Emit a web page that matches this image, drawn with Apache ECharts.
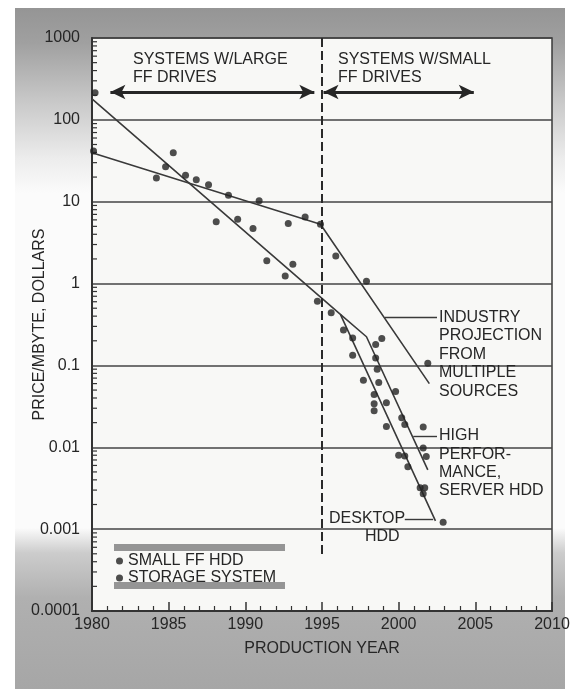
<!DOCTYPE html>
<html>
<head>
<meta charset="utf-8">
<script src="https://cdn.jsdelivr.net/npm/echarts@6/dist/echarts.min.js"></script>
<style>
html,body{margin:0;padding:0;background:#ffffff;}
#wrap{position:relative;width:580px;height:689px;overflow:hidden;}
#card{position:absolute;left:15px;top:8px;width:550px;height:681px;
background:linear-gradient(to bottom,#959595 0px,#a0a0a0 35px,#c6c6c6 90px,#ececec 150px,#fbfbfb 185px,#fbfbfb 520px,#cccccc 545px,#b0b0b0 590px,#a6a6a6 681px);}
#chart{position:absolute;left:0;top:0;width:580px;height:689px;}
</style>
</head>
<body>
<div id="wrap"><div id="card"></div><div id="chart"></div></div>
<script>
// ---- data (year, price per MByte in dollars) ----
const smallFFHDD = [
  [1980.2,215],[1984.2,19.5],[1984.8,26.8],[1988.1,5.7],[1989.5,6.1],[1990.5,4.7],
  [1992.8,5.4],[1991.4,1.9],[1993.1,1.72],[1992.6,1.24],[1994.7,0.61],[1995.6,0.44],
  [1996.4,0.27],[1997.0,0.216],[1997.0,0.133],[1998.9,0.214],[1998.5,0.18],[1998.5,0.123],
  [1998.6,0.09],[1997.7,0.066],[1998.7,0.062],[1998.4,0.044],[1999.8,0.048],[1998.4,0.034],
  [1998.4,0.028],[1999.2,0.035],[1999.2,0.018],[2000.2,0.023],[2000.4,0.019],[2001.6,0.0177],
  [2001.6,0.0098],[2001.8,0.0077],[2000.0,0.008],[2000.4,0.0078],[2000.6,0.0058],
  [2001.4,0.0032],[2001.7,0.0032],[2001.6,0.0027],[2002.9,0.00121]
];
const storageSystem = [
  [1980.1,41.7],[1985.3,39.7],[1986.1,21],[1986.8,18.6],[1987.6,16.1],[1988.9,12],
  [1990.9,10.3],[1993.9,6.5],[1994.9,5.3],[1995.9,2.17],[1997.9,1.07],[2001.9,0.106]
];
const hddTrendDesktop = [[1980,180],[1996.2,0.42],[2002.4,0.00126]];
const hddTrendServer = [[1996.2,0.42],[1997.9,0.224],[2001.9,0.0053]];
const storageTrendProjection = [[1980,39.7],[1994.9,5.3],[2002.0,0.06]];

const eraDivider = [[1995,1000],[1995,0.00045]];
const largeFFArrow = [[1981.2,219],[1994.5,219]];
const smallFFArrow = [[1995.1,219],[2004.9,219]];
const leaderIndustry = [[1999.1,0.39],[2002.5,0.39]];
const leaderServer = [[2000.95,0.0137],[2002.5,0.0137]];
const leaderDesktop = [[2000.4,0.00133],[2002.25,0.00133]];

const xTickLabels = ['1980','1985','1990','1995','2000','2005','2010'];
const yTickLabels = ['0.0001','0.001','0.01','0.1','1','10','100','1000'];
const yMinorTickValues = [];
for (let k = -4; k <= 2; k++) for (let m = 2; m <= 9; m++) yMinorTickValues.push([1980, m * Math.pow(10, k)]);

const legendNames = ['SMALL FF HDD','STORAGE SYSTEM'];

// ---- styles ----
const FONT = 'Liberation Sans, Arial, sans-serif';
const TXT = '#262626';
const LINE = '#3a3a3a';
const DOT = '#222222';

function seg(pair){ return [{coord: pair[0]}, {coord: pair[1]}]; }

const chart = echarts.init(document.getElementById('chart'), null, {renderer:'canvas'});

const textBlocks = [
  {x:133, y:61, t:'SYSTEMS W/LARGE'}, {x:133, y:79, t:'FF DRIVES'},
  {x:338, y:61, t:'SYSTEMS W/SMALL'}, {x:338, y:79, t:'FF DRIVES'},
  {x:439, y:318.5, t:'INDUSTRY'}, {x:439, y:337, t:'PROJECTION'}, {x:439, y:355.5, t:'FROM'},
  {x:439, y:374, t:'MULTIPLE'}, {x:439, y:392.5, t:'SOURCES'},
  {x:439, y:436.5, t:'HIGH'}, {x:439, y:455.5, t:'PERFOR-'}, {x:439, y:474, t:'MANCE,'},
  {x:439, y:492, t:'SERVER HDD'},
  {x:329, y:519.3, t:'DESKTOP'}, {x:365, y:537.5, t:'HDD'}
];

const graphics = textBlocks.map(b => ({
  type:'text', left:b.x, top:b.y - 9, z:50,
  style:{text:b.t, fill:TXT, font:'16px ' + FONT}
}));
graphics.push(
  {type:'rect', shape:{x:114,y:544,width:171,height:7}, style:{fill:'#959595'}, z:40},
  {type:'rect', shape:{x:114,y:582,width:171,height:7}, style:{fill:'#959595'}, z:40}
);

const option = {
  animation:false,
  textStyle:{fontFamily:FONT},
  grid:{left:92, top:38, right:28, bottom:78, show:true, backgroundColor:'#f8f8f6',
        borderColor:LINE, borderWidth:1.5},
  legend:{
    data:legendNames, orient:'vertical', left:116, top:553, padding:0, itemGap:1,
    itemWidth:7, itemHeight:7, icon:'circle',
    textStyle:{fontSize:16, color:TXT, fontFamily:FONT, padding:[0,0,0,0]},
    selectedMode:false
  },
  xAxis:{
    type:'value', min:1980, max:2010, interval:5,
    name:'PRODUCTION YEAR', nameLocation:'middle', nameGap:30, nameMoveOverlap:false,
    nameTextStyle:{fontSize:16, color:TXT, fontFamily:FONT},
    axisLine:{lineStyle:{color:'#333', width:2}},
    axisTick:{inside:true, length:9, lineStyle:{color:'#333', width:1.5}},
    minorTick:{show:true, splitNumber:5, length:5, lineStyle:{color:'#333', width:1.2}},
    axisLabel:{fontSize:16, color:TXT, margin:6, formatter:v => xTickLabels[Math.round((v-1980)/5)]},
    splitLine:{show:false}
  },
  yAxis:{
    type:'log', logBase:10, min:0.0001, max:1000, interval:1, splitNumber:7,
    name:'PRICE/MBYTE, DOLLARS', nameLocation:'middle', nameGap:44, nameRotate:90,
    nameMoveOverlap:false,
    nameTextStyle:{fontSize:16, color:TXT, fontFamily:FONT},
    axisLine:{show:true, lineStyle:{color:'#333', width:2}},
    axisTick:{show:false},
    axisLabel:{fontSize:16, color:TXT, margin:12,
      formatter:v => yTickLabels[Math.round(Math.log10(v)) + 4]},
    splitLine:{show:true, lineStyle:{color:'#454545', width:1.5}}
  },
  graphic:graphics,
  series:[
    {
      type:'custom', name:'yMinorTicks', data:yMinorTickValues, silent:true, z:5,
      renderItem:(params, api) => {
        const p = api.coord([api.value(0), api.value(1)]);
        return {type:'line', shape:{x1:p[0], y1:p[1], x2:p[0]+5, y2:p[1]},
                style:{stroke:'#333', lineWidth:1.2}};
      }
    },
    {
      type:'line', name:'hddTrendDesktop', data:hddTrendDesktop, symbol:'none', silent:true,
      lineStyle:{color:LINE, width:1.6}, z:3,
      markLine:{silent:true, symbol:['none','none'], label:{show:false},
        lineStyle:{color:LINE, width:1.4, type:'solid'},
        data:[seg(leaderIndustry), seg(leaderServer), seg(leaderDesktop)]}
    },
    {
      type:'line', name:'hddTrendServer', data:hddTrendServer, symbol:'none', silent:true,
      lineStyle:{color:LINE, width:1.6}, z:3
    },
    {
      type:'line', name:'storageTrendProjection', data:storageTrendProjection, symbol:'none', silent:true,
      lineStyle:{color:LINE, width:1.6}, z:3,
      markLine:{silent:true, symbol:['arrow','arrow'], symbolSize:[11,15], label:{show:false},
        lineStyle:{color:'#262626', width:3.2, type:'solid'},
        data:[seg(largeFFArrow), seg(smallFFArrow)]}
    },
    {
      type:'line', name:'eraDivider', data:[], symbol:'none', silent:true,
      markLine:{silent:true, symbol:['none','none'], label:{show:false},
        lineStyle:{color:'#2a2a2a', width:2, type:[9,4]},
        data:[seg(eraDivider)]}
    },
    {
      type:'scatter', name:'SMALL FF HDD', data:smallFFHDD, symbol:'circle', symbolSize:7,
      itemStyle:{color:DOT}, z:6
    },
    {
      type:'scatter', name:'STORAGE SYSTEM', data:storageSystem, symbol:'circle', symbolSize:7,
      itemStyle:{color:DOT}, z:6
    }
  ]
};
chart.setOption(option);
</script>
</body>
</html>
